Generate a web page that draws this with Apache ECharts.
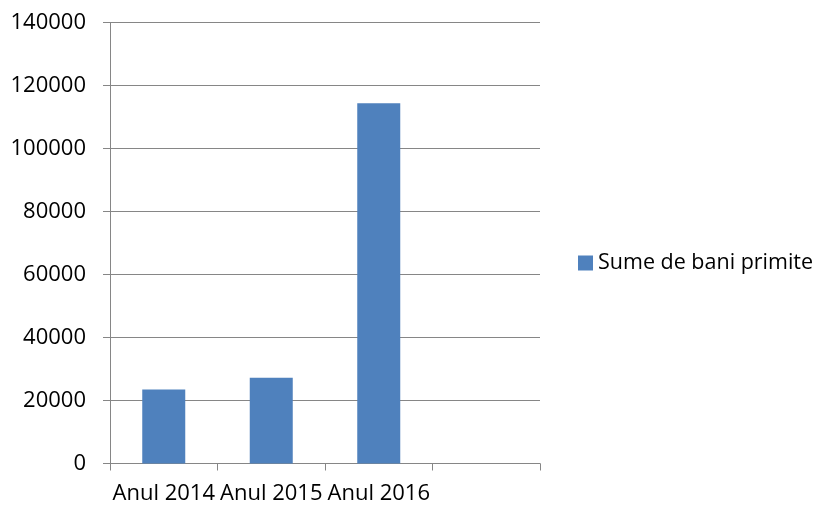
<!DOCTYPE html>
<html>
<head>
<meta charset="utf-8">
<script src="https://cdn.jsdelivr.net/npm/echarts@6/dist/echarts.min.js"></script>
<style>
  html, body { margin: 0; padding: 0; background: #fff; }
  #chart { width: 820px; height: 506px; }
</style>
</head>
<body>
<div id="chart"></div>
<script>
var categories = ['Anul 2014', 'Anul 2015', 'Anul 2016', ''];
var sume = [23500, 27200, 114400, '-'];
var seriesName = 'Sume de bani primite';

var font = '"Open Sans", "Noto Sans", sans-serif';
var axisGray = '#868686';

var myChart = echarts.init(document.getElementById('chart'));
var option = {
  animation: false,
  grid: { left: 110, right: 280, top: 22.5, bottom: 42.5 },
  legend: {
    data: [seriesName],
    orient: 'vertical',
    left: 578,
    top: 252,
    padding: 0,
    icon: 'rect',
    itemWidth: 15,
    itemHeight: 15,
    itemGap: 5,
    textStyle: { fontFamily: font, fontSize: 21.5, color: '#000' }
  },
  xAxis: {
    type: 'category',
    data: categories,
    axisLine: { lineStyle: { color: axisGray, width: 1 } },
    axisTick: { show: true, length: 7, lineStyle: { color: axisGray } },
    axisLabel: { interval: 0, margin: 19, fontFamily: font, fontSize: 22, color: '#000' }
  },
  yAxis: {
    type: 'value',
    min: 0,
    max: 140000,
    interval: 20000,
    axisLine: { show: true, lineStyle: { color: axisGray, width: 1 } },
    axisTick: { show: true, length: 7, lineStyle: { color: axisGray } },
    splitLine: { lineStyle: { color: axisGray, width: 1 } },
    axisLabel: {
      margin: 24, fontFamily: font, fontSize: 22, color: '#000',
      formatter: function (v) { return String(v); }
    }
  },
  series: [{
    name: seriesName,
    type: 'bar',
    data: sume,
    barWidth: '40%',
    itemStyle: { color: '#4F81BD' }
  }]
};
myChart.setOption(option);
</script>
</body>
</html>
